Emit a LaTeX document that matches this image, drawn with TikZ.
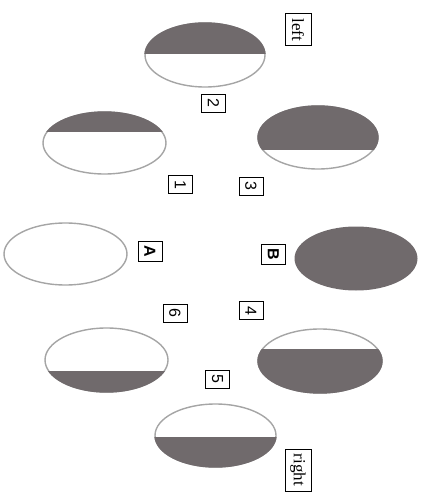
\documentclass[tikz,border=0pt]{standalone}
\usepackage{fontspec}
\setmainfont{Liberation Serif}
\setsansfont{Liberation Sans}
\definecolor{dark}{RGB}{112,106,108}
\definecolor{rim}{RGB}{165,165,165}
\tikzset{
  ov/.style={draw=rim, line width=1.4pt, fill=white},
  tag/.style={draw, line width=1pt, rotate=-90, inner sep=0pt,
    font=\fontsize{16}{16}\sffamily, minimum width=18pt, minimum height=24pt},
  bigtag/.style={tag, font=\fontsize{16}{16}\sffamily\bfseries, minimum width=20pt},
  word/.style={draw, line width=1pt, rotate=-90, inner sep=0pt,
    font=\fontsize{17}{17}\selectfont, minimum height=26pt},
}
% cx cy rx ry div ; dark part above the division line
\newcommand\ovaltop[5]{%
  \draw[ov] (#1,#2) ellipse [x radius=#3, y radius=#4];
  \begin{scope}
    \clip (#1,#2) ellipse [x radius=#3+0.7, y radius=#4+0.7];
    \fill[dark] (#1-#3-2,#2-#4-2) rectangle (#1+#3+2,#5);
  \end{scope}}
% dark part below the division line
\newcommand\ovalbot[5]{%
  \draw[ov] (#1,#2) ellipse [x radius=#3, y radius=#4];
  \begin{scope}
    \clip (#1,#2) ellipse [x radius=#3+0.7, y radius=#4+0.7];
    \fill[dark] (#1-#3-2,#5) rectangle (#1+#3+2,#2+#4+2);
  \end{scope}}
\begin{document}
\begin{tikzpicture}[x=1pt,y=-1pt]
\useasboundingbox (0,0) rectangle (422,495);
% ellipses
\ovaltop{205}{55}{60}{32}{54}
\ovaltop{104.5}{143}{61.5}{31}{132}
\ovaltop{318}{137.5}{60}{31.5}{150}
\draw[ov] (65.5,254) ellipse [x radius=61.5, y radius=31];
\fill[dark] (356,258.5) ellipse [x radius=61.5, y radius=32];
\ovalbot{106.5}{360}{61.5}{32}{371}
\ovalbot{320}{361}{62}{32}{349}
\ovalbot{215.5}{435.5}{60.5}{31.5}{437}
% labels
\node[word, minimum width=32pt] (left) at (298,30) {left};
\node[word, minimum width=42pt] (right) at (298,470) {right};
\node[tag] (n2) at (213.5,103) {2};
\node[tag] (n1) at (180.5,184.5) {1};
\node[tag] (n3) at (251,186) {3};
\node[bigtag] (nA) at (150,251) {A};
\node[bigtag] (nB) at (273.5,254.5) {B};
\node[tag] (n6) at (175,313) {6};
\node[tag] (n4) at (251,310.5) {4};
\node[tag] (n5) at (217.5,379) {5};
\end{tikzpicture}
\end{document}
